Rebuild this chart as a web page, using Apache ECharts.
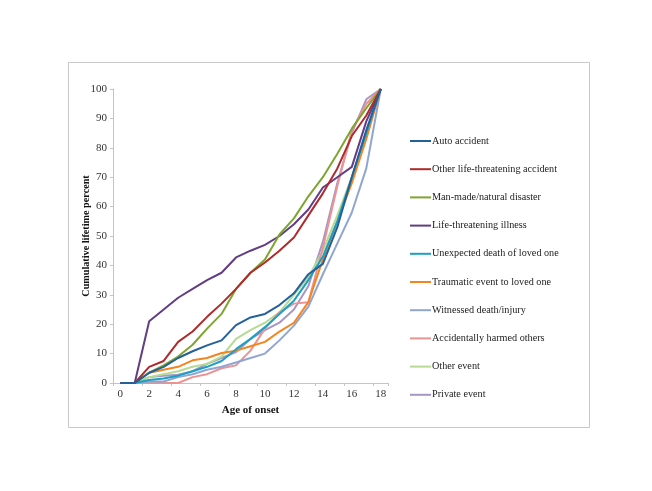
<!DOCTYPE html>
<html>
<head>
<meta charset="utf-8">
<script src="https://cdn.jsdelivr.net/npm/echarts@6/dist/echarts.min.js"></script>
<style>html,body{margin:0;padding:0;background:#fff}#c{width:652px;height:491px}</style>
</head>
<body>
<div id="c"></div>
<script>
var ages = ['0','1','2','3','4','5','6','7','8','9','10','11','12','13','14','15','16','17','18'];
var seriesNames = ['Auto accident','Other life-threatening accident','Man-made/natural disaster','Life-threatening illness','Unexpected death of loved one','Traumatic event to loved one','Witnessed death/injury','Accidentally harmed others','Other event','Private event'];
var colors = ['#23609c','#b02a2c','#7da52f','#623d85','#1b9fc3','#f5841f','#8fa6d3','#ec9391','#b6da92','#a696c4'];
var autoAccident   = [0,0,3.5,5.5,8.5,10.8,12.8,14.5,19.7,22.3,23.5,26.5,30.5,37,40.5,53,70,86,100];
var otherAccident  = [0,0,5.5,7.5,14,17.5,22.5,27,32,37.5,41,45,49.5,57,64.5,73,84,91,100];
var disaster       = [0,0,3.5,6,9,13,18.5,23.5,32,37.5,42,50.5,56,63.5,70,78,86.5,93.5,100];
var illness        = [0,0,21,25,29,32,35,37.5,42.7,45,47,50,54,59,66.5,70,73.5,89,100];
var unexpected     = [0,0,1,1.5,2.5,4,5.5,7.5,11.5,15,19,23.5,28,35,43,55,70,85,100];
var traumatic      = [0,0,3.5,4.5,5.5,7.7,8.5,10.2,11,12.5,14,17.5,20.5,27.5,42,55,68,83,100];
var witnessed      = [0,0,0.5,0.5,2,3,4.5,5.5,7,8.5,10,14.5,19.5,26,37,47.5,58,73,100];
var harmedOthers   = [0,0,0,0,0,2,3,5,6,11,18.5,24,27,27.5,46,67,86,95,100];
var otherEvent     = [0,0,2,3,4,5.5,6.5,9,15,18,20.5,24,30,36,45,57,70,85,100];
var privateEvent   = [0,0,2,2.5,2.8,4,6.5,8.5,10.5,15,18,20.5,25,33,48,68,85,96.5,100];
var seriesData = [autoAccident,otherAccident,disaster,illness,unexpected,traumatic,witnessed,harmedOthers,otherEvent,privateEvent];

var font = 'Liberation Serif';
var chart = echarts.init(document.getElementById('c'), null, {renderer:'canvas'});
var series = seriesNames.map(function(n,i){
  return {name:n,type:'line',data:seriesData[i],symbol:'none',showSymbol:false,
    lineStyle:{width:2,color:colors[i]},itemStyle:{color:colors[i]},z:10-i};
});
chart.setOption({
  animation:false,
  backgroundColor:'#fff',
  color:colors,
  graphic:[{type:'rect',shape:{x:68.5,y:62.5,width:521,height:365},style:{fill:'none',stroke:'#c9c9c9',lineWidth:1},silent:true}],
  grid:{left:113,right:264,top:89,bottom:108,containLabel:false},
  legend:{orient:'vertical',left:405,top:130,itemWidth:21,itemHeight:2,itemGap:16.2,icon:'rect',
    textStyle:{fontFamily:font,fontSize:10.2,lineHeight:12,color:'#222',padding:[0,0,0,-4]},
    data:seriesNames},
  xAxis:{type:'category',data:ages,boundaryGap:true,
    name:'Age of onset',nameLocation:'middle',nameGap:22,
    nameTextStyle:{fontFamily:font,fontSize:11,fontWeight:'bold',color:'#111'},
    axisLine:{lineStyle:{color:'#c4c4c4',width:1}},
    axisTick:{show:true,interval:1,length:3,lineStyle:{color:'#c4c4c4'}},
    axisLabel:{interval:1,fontFamily:font,fontSize:11,color:'#333',margin:6},
    splitLine:{show:false}},
  yAxis:{type:'value',min:0,max:100,interval:10,
    name:'Cumulative lifetime percent',nameLocation:'middle',nameGap:22,nameRotate:90,nameMoveOverlap:false,
    nameTextStyle:{fontFamily:font,fontSize:10.2,fontWeight:'bold',color:'#111'},
    axisLine:{show:true,lineStyle:{color:'#c4c4c4',width:1}},
    axisTick:{show:true,length:3,lineStyle:{color:'#c4c4c4'}},
    axisLabel:{fontFamily:font,fontSize:11,color:'#333',margin:6},
    splitLine:{show:false}},
  series:series
});
</script>
</body>
</html>
